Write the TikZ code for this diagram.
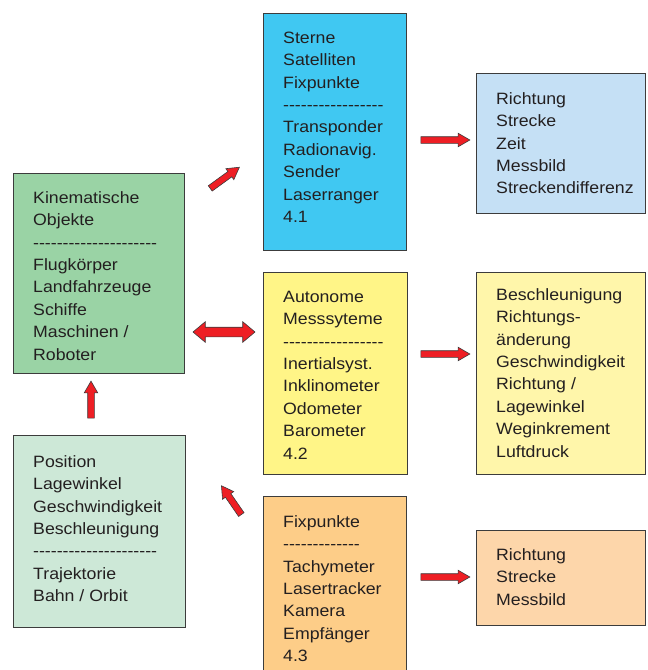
\documentclass[tikz,border=0pt]{standalone}
\usepackage{fontspec}
\setmainfont{Liberation Sans}[FakeStretch=1.08]
\usetikzlibrary{shapes.arrows}
\ExplSyntaxOn
\NewDocumentCommand\dashline{m}{\prg_replicate:nn{#1}{-\kern0pt}}
\ExplSyntaxOff
\definecolor{cBlue}{RGB}{64,200,242}
\definecolor{cLBlue}{RGB}{197,224,245}
\definecolor{cGreen}{RGB}{154,211,165}
\definecolor{cLGreen}{RGB}{205,232,215}
\definecolor{cYellow}{RGB}{255,245,135}
\definecolor{cLYellow}{RGB}{255,246,170}
\definecolor{cOrange}{RGB}{253,205,136}
\definecolor{cPeach}{RGB}{253,214,170}
\definecolor{boxline}{RGB}{60,60,60}
\definecolor{arrred}{RGB}{238,30,36}
\definecolor{txtcol}{RGB}{35,31,32}
\begin{document}
\begin{tikzpicture}[x=1pt,y=-1pt,
  box/.style={draw=boxline, line width=0.8pt, anchor=north west, inner sep=0, outer sep=0},
  txt/.style={anchor=north west, inner sep=0, align=left, text=txtcol,
    font=\fontsize{16.4}{22.4}\selectfont},
  sarrow/.style={single arrow, draw=boxline, fill=arrred, line width=0.6pt,
    inner xsep=0pt, inner ysep=3pt, minimum width=13pt, single arrow head extend=3.5pt,
    single arrow tip angle=60},
  darrow/.style={double arrow, draw=boxline, fill=arrred, line width=0.6pt,
    inner xsep=0pt, inner ysep=4.5pt, minimum width=20pt, double arrow head extend=5.5pt,
    double arrow tip angle=80}]
\useasboundingbox (0,0) rectangle (648,670);
% boxes
\node[box, fill=cBlue, minimum width=143pt, minimum height=237pt] (b41) at (263,13) {};
\node[box, fill=cLBlue, minimum width=169pt, minimum height=140pt] (r41) at (476,73) {};
\node[box, fill=cGreen, minimum width=171pt, minimum height=200pt] (kin) at (13,173) {};
\node[box, fill=cYellow, minimum width=144pt, minimum height=202pt] (b42) at (263,272) {};
\node[box, fill=cLYellow, minimum width=169pt, minimum height=202pt] (r42) at (476,272) {};
\node[box, fill=cLGreen, minimum width=172pt, minimum height=192pt] (pos) at (13,435) {};
\node[box, fill=cOrange, minimum width=143pt, minimum height=190pt] (b43) at (263,496) {};
\node[box, fill=cPeach, minimum width=169pt, minimum height=95pt] (r43) at (476,530) {};
% texts
\node[txt] (t41) at (283,30) {\rule{0pt}{13pt}Sterne\\Satelliten\\Fixpunkte\\\dashline{17}\\Transponder\\Radionavig.\\Sender\\Laserranger\\4.1};
\node[txt] (tr41) at (496,91) {\rule{0pt}{13pt}Richtung\\Strecke\\Zeit\\Messbild\\Streckendifferenz};
\node[txt] (tkin) at (33,190) {\rule{0pt}{13pt}Kinematische\\Objekte\\\dashline{21}\\Flugkörper\\Landfahrzeuge\\Schiffe\\Maschinen /\\Roboter};
\node[txt] (t42) at (283,289) {\rule{0pt}{13pt}Autonome\\Messsyteme\\\dashline{17}\\Inertialsyst.\\Inklinometer\\Odometer\\Barometer\\4.2};
\node[txt] (tr42) at (496,287) {\rule{0pt}{13pt}Beschleunigung\\Richtungs-\\änderung\\Geschwindigkeit\\Richtung /\\Lagewinkel\\Weginkrement\\Luftdruck};
\node[txt] (tpos) at (33,454) {\rule{0pt}{13pt}Position\\Lagewinkel\\Geschwindigkeit\\Beschleunigung\\\dashline{21}\\Trajektorie\\Bahn / Orbit};
\node[txt] (t43) at (283,514) {\rule{0pt}{13pt}Fixpunkte\\\dashline{13}\\Tachymeter\\Lasertracker\\Kamera\\Empfänger\\4.3};
\node[txt] (tr43) at (496,547) {\rule{0pt}{13pt}Richtung\\Strecke\\Messbild};
% block arrows
\node[sarrow, minimum height=36pt, rotate=36] (a1) at (222.5,179.5) {};
\node[darrow, minimum height=62pt] (a2) at (224,332) {};
\node[sarrow, minimum height=49pt] (a3) at (442.5,140) {};
\node[sarrow, minimum height=49pt] (a4) at (442.5,354) {};
\node[sarrow, minimum height=49pt] (a5) at (442.5,577) {};
\node[sarrow, minimum height=37pt, rotate=90] (a6) at (91,402.5) {};
\node[sarrow, minimum height=35pt, rotate=124.6] (a7) at (233,502.5) {};
\end{tikzpicture}
\end{document}
